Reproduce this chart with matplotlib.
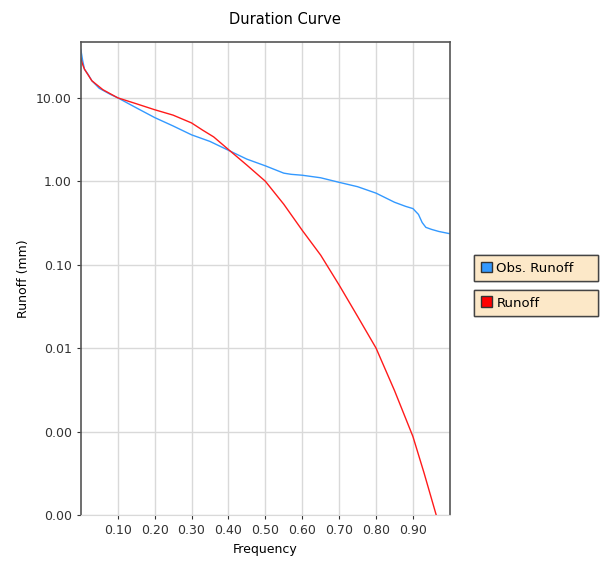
import matplotlib
matplotlib.use("Agg")
import matplotlib.pyplot as plt
from matplotlib.patches import Patch

# duration curve values
obs_freq = [0.0, 0.005, 0.01, 0.02, 0.03, 0.05, 0.08, 0.1, 0.15, 0.2, 0.25, 0.3, 0.35, 0.4,
            0.45, 0.5, 0.55, 0.57, 0.6, 0.65, 0.7, 0.75, 0.8, 0.85, 0.88, 0.9, 0.915, 0.925,
            0.935, 0.95, 0.97, 1.0]
obs_runoff = [38, 28, 22, 19, 16, 13, 11, 10, 7.6, 5.8, 4.6, 3.6, 3.0, 2.35,
              1.84, 1.53, 1.25, 1.21, 1.18, 1.1, 0.97, 0.86, 0.72, 0.56, 0.5, 0.47, 0.4, 0.32,
              0.28, 0.265, 0.25, 0.235]

sim_freq = [0.0, 0.005, 0.01, 0.03, 0.06, 0.1, 0.15, 0.2, 0.25, 0.3, 0.33, 0.36, 0.4,
            0.45, 0.5, 0.55, 0.6, 0.65, 0.7, 0.75, 0.8, 0.85, 0.9, 0.93, 0.963]
sim_runoff = [30, 25, 22, 16, 12.5, 10, 8.5, 7.2, 6.2, 5.0, 4.1, 3.4, 2.4,
              1.56, 1.0, 0.53, 0.258, 0.13, 0.057, 0.024, 0.01, 0.0031, 0.00087,
              0.00032, 0.0001]

x_ticks = [0.1, 0.2, 0.3, 0.4, 0.5, 0.6, 0.7, 0.8, 0.9]
y_ticks = [0.0001, 0.001, 0.01, 0.1, 1, 10]
y_labels = ["0.00", "0.00", "0.01", "0.10", "1.00", "10.00"]

fig = plt.figure(figsize=(6.03, 5.64), dpi=100)
ax = fig.add_axes([0.134, 0.087, 0.612, 0.839])

ax.plot(obs_freq, obs_runoff, color="#3399ff", lw=1.0)
ax.plot(sim_freq, sim_runoff, color="#ff1a1a", lw=1.0)

ax.set_yscale("log")
ax.set_xlim(0, 1.0)
ax.set_ylim(0.0001, 47)
ax.set_xticks(x_ticks)
ax.set_xticklabels(["%.2f" % v for v in x_ticks])
ax.set_yticks(y_ticks)
ax.set_yticklabels(y_labels)
ax.yaxis.set_minor_locator(matplotlib.ticker.NullLocator())
ax.tick_params(labelsize=9, length=3, colors="#333333")
ax.grid(True, color="#d9d9d9", lw=1.0)
for side in ["left", "top", "right"]:
    ax.spines[side].set_color("#555555")
    ax.spines[side].set_linewidth(1.2)
ax.spines["bottom"].set_color("#d9d9d9")

ax.set_xlabel("Frequency", fontsize=9)
ax.set_ylabel("Runoff (mm)", fontsize=9)
fig.text(0.473, 0.965, "Duration Curve", ha="center", va="center", fontsize=10.5)

# two separate legend boxes, like the original
for label, col, top in [("Obs. Runoff", "#3399ff", 0.548), ("Runoff", "#ff0000", 0.486)]:
    leg = fig.legend(handles=[Patch(facecolor=col, edgecolor="#333333", label=label)],
                     loc="upper left", bbox_to_anchor=(0.786, top - 0.05, 0.206, 0.05),
                     mode="expand", fontsize=9.5,
                     fancybox=False, framealpha=1, handlelength=0.9, handleheight=0.9,
                     handletextpad=0.3, borderpad=0.5, borderaxespad=0)
    leg.get_frame().set_facecolor("#fce8c8")
    leg.get_frame().set_edgecolor("#444444")
    fig.add_artist(leg)

fig.savefig("out.png", dpi=100)
